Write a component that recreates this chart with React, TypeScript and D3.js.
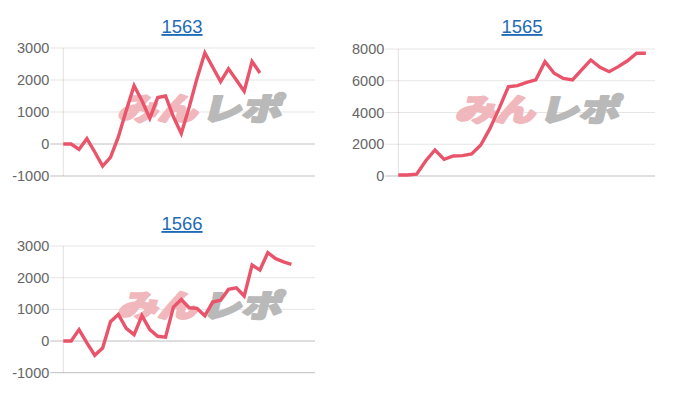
import React from "react";
import * as d3 from "d3";

const titles = ["1563", "1565", "1566"];
const series1563 = [0, 0, -170, 170, -250, -690, -420, 220, 1050, 1820, 1350, 800, 1450, 1500, 850, 330, 1150, 2050, 2850, 2400, 1950, 2350, 2000, 1650, 2580, 2220];
const series1565 = [60, 60, 120, 960, 1640, 1050, 1260, 1280, 1390, 1950, 3000, 4260, 5620, 5690, 5900, 6060, 7200, 6470, 6150, 6050, 6680, 7310, 6850, 6570, 6890, 7260, 7730, 7730];
const series1566 = [0, 0, 360, -60, -450, -220, 610, 840, 400, 200, 800, 360, 150, 120, 1070, 1310, 1050, 1030, 800, 1230, 1290, 1630, 1680, 1420, 2400, 2240, 2790, 2600, 2500, 2420];
const slots = [33, 29, 33];
const yDomains: [number, number][] = [[-1000, 3000], [0, 8000], [-1000, 3000]];
const yTicks = [[-1000, 0, 1000, 2000, 3000], [0, 2000, 4000, 6000, 8000], [-1000, 0, 1000, 2000, 3000]];

const panels = [
  { x0: 63.3, x1: 315, yTop: 48, yBot: 176, titleX: 182, titleY: 33, data: series1563 },
  { x0: 398.3, x1: 655, yTop: 49, yBot: 176, titleX: 522, titleY: 33, data: series1565 },
  { x0: 63.3, x1: 315, yTop: 246, yBot: 372.7, titleX: 182, titleY: 230, data: series1566 },
];

const LINE = "#e9546b";
const FONT = "'Liberation Sans', Arial, sans-serif";
const WM_FONT = "'Noto Sans CJK JP', sans-serif";

function Panel({ i }: { i: number }) {
  const p = panels[i];
  const x = d3.scaleLinear().domain([0, slots[i] - 1]).range([p.x0, p.x1]);
  const y = d3.scaleLinear().domain(yDomains[i]).range([p.yBot, p.yTop]);
  const line = d3.line<number>().x((_, k) => x(k)).y((v) => y(v));
  const wmX = (p.x0 + p.x1) / 2 + 10;
  const wmY = (p.yTop + p.yBot) / 2 + 8;
  return (
    <g>
      <text x={p.titleX} y={p.titleY} textAnchor="middle" fontFamily={FONT} fontSize={18.5} fill="#1f6bb5" textDecoration="underline">
        {titles[i]}
      </text>
      {yTicks[i].map((t) => {
        const strong = t === 0 || t === yDomains[i][0];
        return (
          <g key={t}>
            <line x1={p.x0 - 13} x2={p.x1} y1={y(t)} y2={y(t)} stroke={strong ? "rgba(0,0,0,0.25)" : "rgba(0,0,0,0.1)"} strokeWidth={1} />
            <text x={p.x0 - 14} y={y(t)} dy="0.35em" textAnchor="end" fontFamily={FONT} fontSize={14.5} fill="#666">
              {t}
            </text>
          </g>
        );
      })}
      <line x1={p.x0} x2={p.x0} y1={p.yTop} y2={p.yBot} stroke="rgba(0,0,0,0.12)" />
      <g transform={`translate(${wmX},${wmY}) skewX(-14)`}>
        <text x={-82} y={0} fontFamily={WM_FONT} fontWeight={900} fontSize={31} textLength={80} lengthAdjust="spacingAndGlyphs" fill="#f0b8bd" stroke="#f0b8bd" strokeWidth={2.2} strokeLinejoin="round">
          みん
        </text>
        <text x={2} y={0} fontFamily={WM_FONT} fontWeight={900} fontSize={31} textLength={80} lengthAdjust="spacingAndGlyphs" fill="#b9b9b9" stroke="#b9b9b9" strokeWidth={2.2} strokeLinejoin="round">
          レポ
        </text>
      </g>
      <path d={line(p.data) || ""} fill="none" stroke={LINE} strokeWidth={3.4} strokeLinejoin="miter" />
    </g>
  );
}

export default function App() {
  return (
    <svg width={700} height={400} style={{ position: "absolute", left: 0, top: 0, background: "#fff" }}>
      <rect width={700} height={400} fill="#fff" />
      {panels.map((_, i) => (
        <Panel key={i} i={i} />
      ))}
    </svg>
  );
}
